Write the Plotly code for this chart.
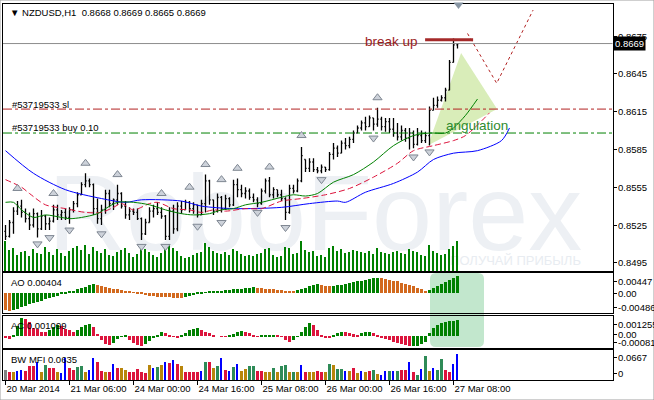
import plotly.graph_objects as go

# ---------------- data ----------------
opens = [0.8520,0.8516,0.8527,0.8536,0.8540,0.8535,0.8530,0.8525,0.8534,0.8522,
0.8532,0.8526,0.8528,0.8537,0.8533,0.8535,0.8531,0.8537,0.8542,0.8549,
0.8557,0.8560,0.8557,0.8538,0.8530,0.8537,0.8550,0.8542,0.8545,0.8550,
0.8540,0.8533,0.8536,0.8535,0.8530,0.8518,0.8527,0.8536,0.8538,0.8535,
0.8532,0.8516,0.8536,0.8522,0.8540,0.8537,0.8543,0.8538,0.8541,0.8533,
0.8542,0.8560,0.8545,0.8536,0.8547,0.8538,0.8546,0.8541,0.8557,0.8553,
0.8550,0.8552,0.8547,0.8545,0.8542,0.8552,0.8560,0.8549,0.8553,0.8549,
0.8546,0.8535,0.8554,0.8552,0.8560,0.8577,0.8570,0.8575,0.8569,0.8568,
0.8571,0.8569,0.8581,0.8586,0.8582,0.8590,0.8588,0.8593,0.8598,0.8602,
0.8606,0.8603,0.8610,0.8605,0.8609,0.8603,0.8607,0.8601,0.8598,0.8595,
0.8600,0.8594,0.8598,0.8589,0.8596,0.8592,0.8596,0.8616,0.8620,0.8624,
0.8626,0.8632,0.8654,0.8668]
highs = [0.8525,0.8529,0.8539,0.8544,0.8545,0.8538,0.8535,0.8538,0.8535,0.8537,
0.8533,0.8531,0.8541,0.8541,0.8537,0.8538,0.8539,0.8544,0.8551,0.8559,
0.8566,0.8562,0.8558,0.8546,0.8541,0.8553,0.8553,0.8546,0.8557,0.8551,
0.8544,0.8539,0.8538,0.8538,0.8531,0.8530,0.8539,0.8541,0.8543,0.8539,
0.8533,0.8539,0.8541,0.8543,0.8544,0.8545,0.8544,0.8543,0.8541,0.8545,
0.8565,0.8561,0.8545,0.8550,0.8548,0.8549,0.8547,0.8561,0.8562,0.8557,
0.8555,0.8554,0.8550,0.8547,0.8554,0.8562,0.8563,0.8555,0.8553,0.8553,
0.8547,0.8557,0.8557,0.8562,0.8587,0.8577,0.8578,0.8578,0.8571,0.8573,
0.8571,0.8583,0.8590,0.8588,0.8592,0.8594,0.8595,0.8600,0.8604,0.8608,
0.8611,0.8612,0.8610,0.8618,0.8611,0.8610,0.8610,0.8610,0.8606,0.8604,
0.8602,0.8602,0.8600,0.8602,0.8600,0.8599,0.8619,0.8626,0.8627,0.8628,
0.8634,0.8656,0.8673,0.8669]
lows = [0.8513,0.8515,0.8518,0.8533,0.8531,0.8527,0.8521,0.8523,0.8515,0.8521,
0.8521,0.8521,0.8527,0.8529,0.8529,0.8529,0.8526,0.8535,0.8539,0.8549,
0.8555,0.8555,0.8533,0.8526,0.8525,0.8534,0.8539,0.8537,0.8541,0.8538,
0.8530,0.8529,0.8533,0.8529,0.8513,0.8517,0.8527,0.8531,0.8533,0.8530,
0.8513,0.8513,0.8518,0.8520,0.8534,0.8537,0.8535,0.8534,0.8531,0.8533,
0.8535,0.8541,0.8533,0.8535,0.8535,0.8537,0.8539,0.8540,0.8547,0.8547,
0.8546,0.8545,0.8543,0.8539,0.8541,0.8550,0.8547,0.8546,0.8547,0.8544,
0.8529,0.8534,0.8550,0.8551,0.8559,0.8567,0.8567,0.8567,0.8566,0.8566,
0.8567,0.8568,0.8577,0.8579,0.8582,0.8585,0.8586,0.8590,0.8598,0.8600,
0.8600,0.8603,0.8600,0.8603,0.8600,0.8599,0.8598,0.8595,0.8592,0.8592,
0.8591,0.8585,0.8586,0.8588,0.8590,0.8590,0.8588,0.8616,0.8618,0.8623,
0.8623,0.8632,0.8654,0.8665]
closes = [0.8516,0.8527,0.8536,0.8540,0.8535,0.8530,0.8525,0.8534,0.8522,0.8532,
0.8526,0.8528,0.8537,0.8533,0.8535,0.8531,0.8537,0.8542,0.8549,0.8557,
0.8560,0.8557,0.8538,0.8530,0.8537,0.8550,0.8542,0.8545,0.8550,0.8540,
0.8533,0.8536,0.8535,0.8530,0.8518,0.8527,0.8536,0.8538,0.8535,0.8532,
0.8516,0.8536,0.8522,0.8540,0.8537,0.8543,0.8538,0.8541,0.8533,0.8542,
0.8560,0.8545,0.8536,0.8547,0.8538,0.8546,0.8541,0.8557,0.8553,0.8550,
0.8552,0.8547,0.8545,0.8542,0.8552,0.8560,0.8549,0.8553,0.8549,0.8546,
0.8535,0.8554,0.8552,0.8560,0.8580,0.8570,0.8575,0.8569,0.8568,0.8571,
0.8569,0.8581,0.8586,0.8582,0.8590,0.8588,0.8593,0.8598,0.8602,0.8606,
0.8603,0.8610,0.8605,0.8609,0.8603,0.8607,0.8601,0.8598,0.8595,0.8600,
0.8594,0.8598,0.8589,0.8596,0.8592,0.8596,0.8616,0.8620,0.8624,0.8626,
0.8632,0.8654,0.8668,0.8669]
bar_index = list(range(len(closes)))

volumes = [3000,2100,2300,1600,1900,2000,1500,2200,1800,1700,
2400,1900,1600,2200,1800,1500,2000,2300,2500,2100,
2600,1700,2400,2000,1800,2200,1600,1500,1900,2100,
2300,1800,1400,1700,2500,2200,1900,1600,1400,1800,
2600,2700,2300,2000,1500,1300,1400,1600,1800,1900,
2800,2400,2000,1800,1700,1900,1600,2200,2000,1700,
1500,1600,1500,1700,1800,2200,2300,1600,1400,1500,
2400,2300,1700,1800,3000,2100,1900,2000,1500,1600,
1400,2300,2500,2000,2200,1800,1900,2100,2000,1900,
1800,2000,1700,2300,1900,1800,1700,1900,2000,1800,
1700,2200,2000,1900,1600,1500,2600,2000,1800,1600,
1700,2200,2500,3000]

# Alligator lines (bar index, price)
jaw_idx = [0,7,15,24,30,34,44,49,57,69,76,83,85,90,97,103,107,112,118,124,126]
jaw_val = [0.8584,0.8566,0.8553,0.8546,0.8543,0.8545,0.8544,0.8540,0.8538,0.8539,0.8542,
           0.8544,0.8543,0.8551,0.8558,0.8567,0.8577,0.8582,0.8584,0.8592,0.8602]
teeth_idx = [0,4,6,10,15,20,24,27,29,32,36,38,42,46,49,52,55,60,64,69,74,80,86,92,98,102,107,112,115,121]
teeth_val = [0.8561,0.8555,0.8550,0.8541,0.8538,0.8535,0.8535,0.8539,0.8542,0.8537,0.8542,0.8543,
             0.8538,0.8537,0.8535,0.8537,0.8536,0.8538,0.8538,0.8544,0.8546,0.8549,0.8554,0.8563,
             0.8574,0.8584,0.8588,0.8592,0.8596,0.8614]
lips_idx = [0,2,4,7,10,14,16,19,23,25,28,32,36,40,44,47,51,54,57,60,64,69,72,75,78,82,87,92,97,102,106,110,112,115,118]
lips_val = [0.8543,0.8543,0.8537,0.8531,0.8533,0.8531,0.8530,0.8531,0.8534,0.8538,0.8543,0.8543,
            0.8541,0.8537,0.8534,0.8533,0.8534,0.8537,0.8538,0.8541,0.8543,0.8547,0.8549,0.8548,
            0.8550,0.8559,0.8565,0.8575,0.8588,0.8596,0.8598,0.8598,0.8602,0.8612,0.8625]

# Fractals
frac_up_idx = [3,12,20,28,39,46,50,54,58,66,74,93]
frac_up_val = [0.8554,0.8550,0.8574,0.8565,0.8550,0.8555,0.8573,0.8561,0.8570,0.8571,0.8596,0.8626]
frac_dn_idx = [8,11,16,24,34,40,48,54,63,70,79,92,102,106]
frac_dn_val = [0.8510,0.8515,0.8521,0.8518,0.8508,0.8508,0.8524,0.8527,0.8535,0.8523,0.8561,0.8594,0.8579,0.8583]

ao_vals = [-0.0042,-0.0044,-0.0041,-0.0038,-0.0034,-0.0031,-0.0028,-0.0025,-0.0022,-0.0019,
-0.0016,-0.0013,-0.0010,-0.0007,-0.0004,-0.0001,0.0002,0.0005,0.0008,0.0011,
0.0014,0.0018,0.0021,0.0019,0.0016,0.0014,0.0012,0.0010,0.0009,0.0007,
0.0005,0.0003,0.0001,-0.0002,-0.0004,-0.0006,-0.0008,-0.0009,-0.0010,-0.0011,
-0.00112,-0.00114,-0.00115,-0.00117,-0.00118,-0.0010,-0.0008,-0.0006,-0.0004,-0.0002,
0.0001,0.0002,0.0003,0.0004,0.0005,0.0006,0.0007,0.0008,0.0009,0.0010,
0.0011,0.0012,0.0013,0.0012,0.0011,0.0010,0.0009,0.0008,0.0007,0.0006,
0.0005,0.0004,0.0003,0.0006,0.0009,0.0012,0.0015,0.0018,0.0020,0.0019,
0.0017,0.0016,0.0017,0.0018,0.0019,0.0021,0.0023,0.0025,0.0027,0.0029,
0.0031,0.0033,0.0034,0.0035,0.0034,0.0033,0.0031,0.0029,0.0027,0.0024,
0.0021,0.0018,0.0015,0.0011,0.0008,0.0003,0.0007,0.0011,0.0015,0.0021,
0.0025,0.0031,0.0036,0.00404]

ac_vals = [-0.00016,-0.00020,0.00002,0.00070,0.00121,0.00115,0.00098,0.00057,0.00048,0.00030,
0.00028,0.00040,0.00060,0.00075,0.00070,0.00050,0.00040,0.00030,0.00042,0.00060,
0.00075,0.00085,0.00065,0.00015,-0.00030,-0.00052,-0.00062,-0.00050,-0.00022,-0.00005,
0.00002,-0.00028,-0.00045,-0.00062,-0.00068,-0.00058,-0.00035,-0.00012,0.00001,0.00025,
0.00018,0.00007,-0.00005,-0.00016,0.00002,0.00018,0.00040,0.00048,0.00052,0.00040,
0.00030,0.00018,0.00007,0.00000,-0.00004,-0.00005,0.00002,0.00012,0.00030,0.00035,
0.00030,0.00018,0.00007,-0.00004,0.00002,0.00006,0.00008,0.00010,0.00007,-0.00004,
-0.00027,-0.00043,-0.00027,-0.00004,0.00030,0.00065,0.00087,0.00075,0.00040,0.00007,
-0.00007,-0.00010,0.00005,0.00018,0.00030,0.00025,0.00020,0.00012,0.00008,0.00020,
0.00025,0.00027,0.00020,0.00008,-0.00010,-0.00020,-0.00030,-0.00043,-0.00050,-0.00057,
-0.00062,-0.00068,-0.00067,-0.00066,-0.00058,-0.00040,0.00018,0.00057,0.00076,0.00087,
0.00098,0.00103,0.00106,0.001099]

mfi_vals = [0.025,0.020,0.019,0.022,0.025,0.022,0.033,0.033,0.045,0.019,
0.037,0.029,0.029,0.019,0.016,0.053,0.029,0.025,0.031,0.035,
0.019,0.025,0.053,0.043,0.022,0.018,0.020,0.039,0.030,0.029,
0.025,0.020,0.020,0.027,0.020,0.016,0.037,0.030,0.031,0.037,
0.045,0.041,0.049,0.039,0.033,0.019,0.019,0.019,0.019,0.021,
0.045,0.043,0.029,0.033,0.055,0.025,0.021,0.031,0.039,0.021,
0.027,0.033,0.033,0.022,0.022,0.019,0.019,0.029,0.020,0.033,
0.037,0.020,0.020,0.020,0.037,0.019,0.020,0.018,0.022,0.019,
0.020,0.039,0.037,0.027,0.027,0.022,0.022,0.029,0.016,0.022,
0.019,0.022,0.025,0.014,0.012,0.022,0.022,0.022,0.022,0.024,
0.024,0.045,0.019,0.012,0.027,0.060,0.022,0.030,0.025,0.052,
0.025,0.020,0.040,0.0635]
# g = green, f = fade (brown), s = squat (red), b = fake (blue), n = none (gray)
mfi_kind = list("nsfbbsssbf" "gssfbbssgg" "fbbssfsbsf" "fsssssfbgf"
                "bsbsfssssb" "gsfgbsbgbf" "fggssffgfg" "gfgfbsffss"
                "fgfggbfsfb" "fsgfbbgbgs" "sbsgbgfbgg" "ssbb")

date_tick_idx = [0, 16, 32, 48, 64, 80, 96, 112]
date_tick_text = ["20 Mar 2014", "21 Mar 06:00", "24 Mar 00:00", "24 Mar 16:00",
                  "25 Mar 08:00", "26 Mar 00:00", "26 Mar 16:00", "27 Mar 08:00"]
price_ticks = [0.8675, 0.8645, 0.8615, 0.8585, 0.8555, 0.8525, 0.8495]

sl_level = 0.8617
buy_level = 0.8598
last_price = 0.8669
break_level = 0.8672
break_idx = [104.9, 116.9]
proj_idx = [115.5, 122.8, 131.9]
proj_val = [0.8677, 0.86375, 0.86956]
tri_idx = [105.6, 113.9, 122.9]
tri_val = [0.8588, 0.86615, 0.86171]

# ---------------- layout helpers ----------------
W, H = 654, 400
def fx(p):
    return p / W
def fy(p):
    return 1 - p / H

FONT = "Liberation Sans, Arial, sans-serif"
XD = [fx(3), fx(612.5)]
XR = [-0.625, 151.75]
PR = [0.848849, 0.870040]

fig = go.Figure()

# watermark on the base subplot (drawn under everything)
fig.add_trace(go.Scatter(
    x=[77.4], y=[0.85266], mode="text", text=["RoboForex"],
    textfont=dict(family="Liberation Sans Narrow, Liberation Sans, Arial", size=108, color="#EDF0F4"),
    textposition="middle center", xaxis="x", yaxis="y", hoverinfo="skip", showlegend=False))
fig.add_trace(go.Scatter(
    x=[127.5], y=[0.84956], mode="text", text=["ПОЛУЧАЙ ПРИБЫЛЬ"],
    textfont=dict(family="Liberation Sans Narrow, Liberation Sans, Arial", size=13, color="#E8ECF1"),
    textposition="middle center", xaxis="x", yaxis="y", hoverinfo="skip", showlegend=False))

# volumes (overlay y5)
fig.add_trace(go.Bar(x=bar_index, y=volumes, width=0.3, marker_color="#008000",
                     marker_line_width=0, xaxis="x", yaxis="y5", showlegend=False))

# price bars (overlay y6)
fig.add_trace(go.Ohlc(x=bar_index, open=opens, high=highs, low=lows, close=closes,
                      increasing_line_color="black", decreasing_line_color="black",
                      line_width=1.3, tickwidth=0.3, xaxis="x", yaxis="y6", showlegend=False))

# alligator
fig.add_trace(go.Scatter(x=jaw_idx, y=jaw_val, mode="lines", line=dict(color="#0000FF", width=1, shape="spline", smoothing=0.8),
                         xaxis="x", yaxis="y6", showlegend=False))
fig.add_trace(go.Scatter(x=teeth_idx, y=teeth_val, mode="lines", line=dict(color="#DC143C", width=1, shape="spline", smoothing=0.8, dash="6px,3px"),
                         xaxis="x", yaxis="y6", showlegend=False))
fig.add_trace(go.Scatter(x=lips_idx, y=lips_val, mode="lines", line=dict(color="#008000", width=1, shape="spline", smoothing=0.8),
                         xaxis="x", yaxis="y6", showlegend=False))

# fractals
fig.add_trace(go.Scatter(x=frac_up_idx, y=frac_up_val, mode="markers",
                         marker=dict(symbol="triangle-up", size=8, color="#CDD2DA", line=dict(color="#7F8792", width=1)),
                         xaxis="x", yaxis="y6", showlegend=False))
fig.add_trace(go.Scatter(x=frac_dn_idx, y=frac_dn_val, mode="markers",
                         marker=dict(symbol="triangle-down", size=8, color="#CDD2DA", line=dict(color="#7F8792", width=1)),
                         xaxis="x", yaxis="y6", showlegend=False))

# projection (dotted)
fig.add_trace(go.Scatter(x=proj_idx, y=proj_val, mode="lines", line=dict(color="#B22222", width=1, dash="dot"),
                         xaxis="x", yaxis="y6", showlegend=False))
# break up line
fig.add_trace(go.Scatter(x=break_idx, y=[break_level, break_level], mode="lines", line=dict(color="#A52A2A", width=3),
                         xaxis="x", yaxis="y6", showlegend=False))

# AO
ao_col = []
for i, v in enumerate(ao_vals):
    up = i > 0 and v > ao_vals[i - 1]
    ao_col.append("#008000" if up else "#D2691E")
fig.add_trace(go.Bar(x=bar_index, y=ao_vals, width=0.72, marker_color=ao_col, marker_line_width=0,
                     xaxis="x2", yaxis="y2", showlegend=False))

# AC
ac_col = []
for i, v in enumerate(ac_vals):
    up = i > 0 and v > ac_vals[i - 1]
    ac_col.append("#008000" if up else "#DC143C")
fig.add_trace(go.Bar(x=bar_index, y=ac_vals, width=0.72, marker_color=ac_col, marker_line_width=0,
                     xaxis="x3", yaxis="y3", showlegend=False))

# BW MFI
kind_color = {"g": "#2E8B57", "f": "#B8860B", "s": "#DC143C", "b": "#0000FF", "n": "#808080"}
wide_y = [v if k != "b" else None for v, k in zip(mfi_vals, mfi_kind)]
wide_c = [kind_color[k] for k in mfi_kind]
thin_y = [v if k == "b" else None for v, k in zip(mfi_vals, mfi_kind)]
fig.add_trace(go.Bar(x=bar_index, y=wide_y, width=0.78, marker_color=wide_c, marker_line_width=0,
                     xaxis="x4", yaxis="y4", showlegend=False))
fig.add_trace(go.Bar(x=bar_index, y=thin_y, width=0.3, marker_color="#0000FF", marker_line_width=0,
                     xaxis="x4", yaxis="y4", showlegend=False))

tickfont = dict(family=FONT, size=9.5, color="black")
def xax(anchor, **kw):
    d = dict(domain=XD, range=XR, anchor=anchor, showgrid=False, zeroline=False,
             showline=True, mirror=True, linecolor="black", linewidth=1,
             showticklabels=False, ticks="", fixedrange=True)
    d.update(kw)
    return d

def yax(domain, rng, tv, **kw):
    d = dict(domain=domain, range=rng, side="right", showgrid=False, zeroline=False,
             showline=True, mirror=True, linecolor="black", linewidth=1,
             tickvals=tv, showticklabels=False, ticks="outside", ticklen=3, tickcolor="black",
             fixedrange=True)
    d.update(kw)
    return d

AO_TV, AO_TT = [0.00276, 0.0, -0.00343], ["0.00447", "0.00", "-0.00486"]
AC_TV, AC_TT = [0.00082, 0.00009, -0.00041], ["0.001255", "0.00", "-0.00081"]
MFI_TV, MFI_TT = [0.0565, 0.0167], ["0.0667", "0"]

fig.update_layout(
    width=W, height=H, margin=dict(l=0, r=0, t=0, b=0),
    paper_bgcolor="white", plot_bgcolor="rgba(0,0,0,0)", bargap=0, barmode="overlay",
    xaxis=xax("y", rangeslider=dict(visible=False)),
    xaxis2=xax("y2"),
    xaxis3=xax("y3"),
    xaxis4=xax("y4", showticklabels=True, tickvals=date_tick_idx, ticktext=date_tick_text,
               ticks="outside", ticklen=4, tickcolor="black", tickfont=tickfont,
               ticklabelposition="outside right", tickangle=0),
    yaxis=yax([fy(271), fy(4)], PR, price_ticks),
    yaxis5=dict(overlaying="y", anchor="x", range=[0, 26700], visible=False, fixedrange=True),
    yaxis6=dict(overlaying="y", anchor="x", range=PR, visible=False, fixedrange=True),
    yaxis2=yax([fy(313), fy(273.3)], [-0.00476, 0.00469], AO_TV),
    yaxis3=yax([fy(348), fy(316)], [-0.00082, 0.00137], AC_TV),
    yaxis4=yax([fy(380), fy(350.3)], [0, 0.074], MFI_TV),
    showlegend=False,
)

shapes = []
# highlight on AO/AC panels (rounded rectangle)
x0, x1, y0, y1 = fx(430), fx(484), fy(347), fy(273)
rx, ry = 6 / W, 6 / H
path = (f"M{x0+rx},{y0} L{x1-rx},{y0} Q{x1},{y0} {x1},{y0+ry} L{x1},{y1-ry} Q{x1},{y1} {x1-rx},{y1} "
        f"L{x0+rx},{y1} Q{x0},{y1} {x0},{y1-ry} L{x0},{y0+ry} Q{x0},{y0} {x0+rx},{y0} Z")
shapes.append(dict(type="path", xref="paper", yref="paper", path=path, fillcolor="#C2E7CD",
                   line=dict(width=0), layer="below"))
# triangle
tri_path = "M{},{} L{},{} L{},{} Z".format(tri_idx[0], tri_val[0], tri_idx[1], tri_val[1], tri_idx[2], tri_val[2])
shapes.append(dict(type="path", xref="x", yref="y", path=tri_path, fillcolor="#D9EDB9",
                   line=dict(width=0), layer="below"))
# horizontal levels
shapes.append(dict(type="line", xref="x domain", yref="y", x0=0, x1=1, y0=last_price, y1=last_price,
                   line=dict(color="#8C8C8C", width=1)))
shapes.append(dict(type="line", xref="x domain", yref="y", x0=0, x1=1, y0=sl_level, y1=sl_level,
                   line=dict(color="#B22222", width=1, dash="dashdot")))
shapes.append(dict(type="line", xref="x domain", yref="y", x0=0, x1=1, y0=buy_level, y1=buy_level,
                   line=dict(color="#008000", width=1, dash="dashdot")))
# chart-shift marker at the top
shapes.append(dict(type="path", xref="paper", yref="paper",
                   path=f"M{fx(453.5)},{fy(2.5)} L{fx(463.5)},{fy(2.5)} L{fx(458.5)},{fy(9)} Z",
                   fillcolor="#8896A4", line=dict(width=0)))
# window frame
shapes.append(dict(type="rect", xref="paper", yref="paper", x0=0, x1=1, y0=0, y1=1,
                   line=dict(color="#A0A0A0", width=1)))
fig.update_layout(shapes=shapes)

ann = []
def text(x, y, s, size=9.5, color="black", anchor="left", yref="paper", **kw):
    d = dict(x=x, y=y, xref="paper", yref=yref, text=s, showarrow=False, xanchor=anchor,
             yanchor="middle", font=dict(family=FONT, size=size, color=color))
    d.update(kw)
    ann.append(d)

# right-hand scale labels
LX = fx(616)
for v in price_ticks:
    text(LX, v, "%.4f" % v, yref="y")
for v, t in zip(AO_TV, AO_TT):
    text(LX, v, t, yref="y2")
for v, t in zip(AC_TV, AC_TT):
    text(LX, v, t, yref="y3")
for v, t in zip(MFI_TV, MFI_TT):
    text(LX, v, t, yref="y4")

text(fx(8), fy(12), "▼ NZDUSD,H1\u00a0\u00a0%.4f %.4f %.4f %.4f" % (opens[-1], highs[-1], lows[-1], closes[-1]))
text(fx(10), fy(104.5), "#53719533 sl")
text(fx(10), fy(127.5), "#53719533 buy 0.10")
text(fx(391.5), fy(42), "break up", size=13.5, color="#9B1B1B", anchor="center")
text(fx(476.5), fy(125), "angulation", size=13.5, color="#2E8B2E", anchor="center")
text(fx(9), fy(282), "AO %.5f" % ao_vals[-1])
text(fx(9), fy(325.5), "AC %.6f" % ac_vals[-1])
text(fx(9), fy(359), "BW MFI %.4f" % mfi_vals[-1])
ann.append(dict(x=fx(613), y=last_price, xref="paper", yref="y", text="%.4f" % last_price,
                showarrow=False, xanchor="left", yanchor="middle", bgcolor="black", borderpad=1,
                font=dict(family=FONT, size=9.5, color="white")))
fig.update_layout(annotations=ann)

fig.write_html("out.html", config={"displayModeBar": False},
               post_script="document.body.style.margin='0';document.body.style.overflow='hidden';")
